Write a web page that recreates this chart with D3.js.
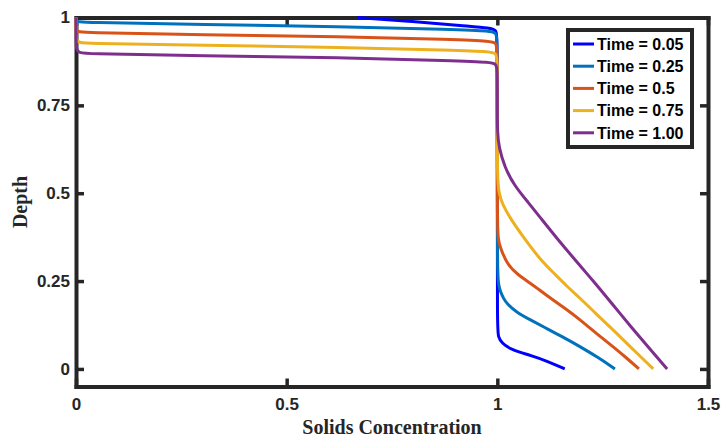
<!DOCTYPE html>
<html>
<head>
	<meta charset="utf-8">
	<title>Solids concentration vs depth</title>
	<style type="text/css">
	body{ margin:0; background:#fff; }
	.tick text{ font:bold 17px "Liberation Sans", Arial, sans-serif; fill:#262626; }
	.axis path, .axis line{ stroke:#262626; }
	.title{ font:bold 20px "Liberation Serif", "Times New Roman", serif; fill:#262626; }
	.legend text{ font:bold 16px "Liberation Sans", Arial, sans-serif; fill:#000; }
	</style>
	<script src="https://cdn.jsdelivr.net/npm/d3@7"></script>
</head>
<body>
<script type="text/javascript">
	var width = 721, height = 438;

	// axis ticks
	var xTicks = [0, 0.5, 1, 1.5];
	var xTickLabels = ["0", "0.5", "1", "1.5"];
	var yTicks = [0, 0.25, 0.5, 0.75, 1];
	var yTickLabels = ["0", "0.25", "0.5", "0.75", "1"];

	// series (concentration, depth)
	var seriesNames = ["Time = 0.05", "Time = 0.25", "Time = 0.5", "Time = 0.75", "Time = 1.00"];
	var seriesColors = ["#0000ff", "#0072bd", "#d95319", "#edb120", "#7e2f8e"];

	var conc005  = [0.669, 0.80, 0.92, 0.985, 0.997, 1.0, 1.0, 1.0, 1.002, 1.01, 1.033, 1.081, 1.121, 1.16];
	var depth005 = [1.0, 0.989, 0.976, 0.970, 0.963, 0.950, 0.50, 0.115, 0.092, 0.074, 0.054, 0.038, 0.021, 0.0];

	var conc025  = [0, 0, 0.006, 0.3, 0.63, 0.9, 0.985, 0.997, 1.0, 1.0, 1.0, 1.003, 1.007, 1.015, 1.023, 1.047, 1.078, 1.12, 1.16, 1.2, 1.24, 1.279];
	var depth025 = [1.0, 0.99, 0.986, 0.980, 0.974, 0.966, 0.962, 0.955, 0.945, 0.60, 0.27, 0.24, 0.22, 0.20, 0.185, 0.160, 0.140, 0.113, 0.088, 0.061, 0.032, 0.0];

	var conc050  = [0, 0, 0.006, 0.3, 0.63, 0.9, 0.985, 0.997, 1.0, 1.0, 1.0, 1.002, 1.006, 1.024, 1.048, 1.085, 1.125, 1.166, 1.196, 1.236, 1.275, 1.305, 1.336];
	var depth050 = [1.0, 0.961, 0.957, 0.951, 0.946, 0.937, 0.933, 0.927, 0.915, 0.66, 0.41, 0.37, 0.348, 0.296, 0.268, 0.239, 0.202, 0.168, 0.140, 0.100, 0.063, 0.033, 0.0];

	var conc075  = [0, 0, 0.006, 0.3, 0.63, 0.9, 0.985, 0.997, 1.0, 1.0, 1.0, 1.004, 1.012, 1.033, 1.066, 1.102, 1.133, 1.166, 1.196, 1.235, 1.275, 1.32, 1.37];
	var depth075 = [1.0, 0.930, 0.926, 0.921, 0.915, 0.907, 0.903, 0.897, 0.885, 0.71, 0.54, 0.50, 0.468, 0.424, 0.368, 0.311, 0.274, 0.234, 0.202, 0.156, 0.111, 0.058, 0.0];

	var conc100  = [0, 0, 0.006, 0.3, 0.63, 0.9, 0.985, 0.997, 1.0, 1.0, 1.0, 1.004, 1.017, 1.04, 1.074, 1.105, 1.137, 1.196, 1.228, 1.272, 1.315, 1.36, 1.403];
	var depth100 = [1.0, 0.901, 0.897, 0.891, 0.886, 0.877, 0.873, 0.867, 0.855, 0.76, 0.67, 0.63, 0.575, 0.522, 0.473, 0.426, 0.378, 0.294, 0.250, 0.186, 0.123, 0.060, 0.0];

	var concs = [conc005, conc025, conc050, conc075, conc100];
	var depths = [depth005, depth025, depth050, depth075, depth100];

	var series = concs.map(function(c, i){
		return {
			name: seriesNames[i],
			color: seriesColors[i],
			points: c.map(function(v, j){ return [v, depths[i][j]]; })
		};
	});

	var margin = {left:76, right:13, top:17.5, bottom:51.5};

	var svg = d3.select("body").append("svg")
		.attr("width", width)
		.attr("height", height);

	var x = d3.scaleLinear().domain([0, 1.5]).range([margin.left, width - margin.right]);
	var y = d3.scaleLinear().domain([-0.05, 1]).range([height - margin.bottom, margin.top]);

	var tickLen = 8;

	function styleAxis(g){
		g.attr("class", "axis");
		g.select(".domain").attr("stroke-width", 4).attr("stroke-linecap", "square");
		g.selectAll(".tick line").attr("stroke-width", 3.5);
	}

	// bottom + top
	svg.append("g")
		.attr("transform", "translate(0," + y.range()[0] + ")")
		.call(d3.axisBottom(x).tickValues(xTicks)
			.tickFormat(function(d, i){ return xTickLabels[i]; })
			.tickSizeInner(-tickLen).tickSizeOuter(0).tickPadding(11))
		.call(styleAxis);

	svg.append("g")
		.attr("transform", "translate(0," + y.range()[1] + ")")
		.call(d3.axisTop(x).tickValues(xTicks).tickFormat("")
			.tickSizeInner(-tickLen).tickSizeOuter(0))
		.call(styleAxis);

	// left + right
	svg.append("g")
		.attr("transform", "translate(" + x.range()[0] + ",0)")
		.call(d3.axisLeft(y).tickValues(yTicks)
			.tickFormat(function(d, i){ return yTickLabels[i]; })
			.tickSizeInner(-tickLen).tickSizeOuter(0).tickPadding(6))
		.call(styleAxis);

	svg.append("g")
		.attr("transform", "translate(" + x.range()[1] + ",0)")
		.call(d3.axisRight(y).tickValues(yTicks).tickFormat("")
			.tickSizeInner(-tickLen).tickSizeOuter(0))
		.call(styleAxis);

	// axis titles
	svg.append("text")
		.attr("class", "title")
		.attr("x", (x.range()[0] + x.range()[1]) / 2)
		.attr("y", 434)
		.attr("text-anchor", "middle")
		.text("Solids Concentration");

	svg.append("text")
		.attr("class", "title")
		.attr("transform", "translate(27," + y(0.5 - 0.025) + ") rotate(-90)")
		.attr("text-anchor", "middle")
		.text("Depth");

	// curves: b-spline smooths the hand-read points
	var line = d3.line()
		.x(function(d){ return x(d[0]); })
		.y(function(d){ return y(d[1]); })
		.curve(d3.curveBasis);

	svg.append("g")
		.selectAll("path")
		.data(series)
		.enter()
		.append("path")
		.attr("d", function(d){ return line(d.points); })
		.attr("fill", "none")
		.attr("stroke", function(d){ return d.color; })
		.attr("stroke-width", 3)
		.attr("stroke-linejoin", "round");

	// legend
	var legend = svg.append("g").attr("class", "legend");
	legend.append("rect")
		.attr("x", 568).attr("y", 30)
		.attr("width", 124).attr("height", 117)
		.attr("fill", "#fff")
		.attr("stroke", "#262626")
		.attr("stroke-width", 4);

	var item = legend.selectAll("g.item")
		.data(series)
		.enter()
		.append("g")
		.attr("class", "item")
		.attr("transform", function(d, i){ return "translate(573," + (44 + i * 22.2) + ")"; });

	item.append("line")
		.attr("x1", 0).attr("x2", 21)
		.attr("stroke", function(d){ return d.color; })
		.attr("stroke-width", 3);

	item.append("text")
		.attr("x", 24)
		.attr("dy", "0.36em")
		.text(function(d){ return d.name; });
</script>
</body>
</html>
